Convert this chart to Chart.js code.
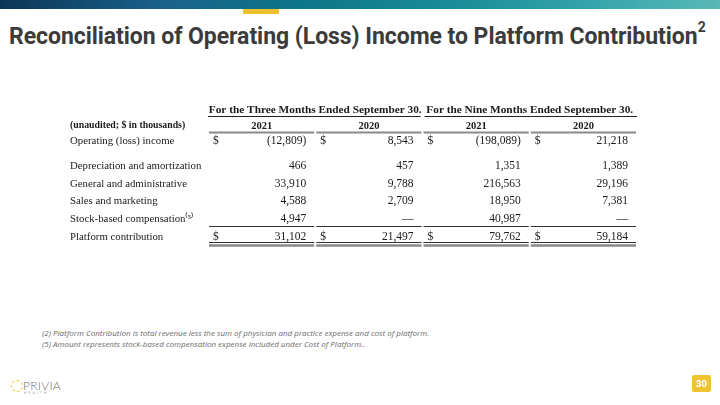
<!DOCTYPE html>
<html>
<head>
<meta charset="utf-8">
<title>Reconciliation of Operating (Loss) Income to Platform Contribution</title>
<script src="https://cdn.jsdelivr.net/npm/chart.js@4.4.0/dist/chart.umd.min.js"></script>
<style>
  html, body { margin: 0; padding: 0; }
  body { width: 720px; height: 405px; position: relative; overflow: hidden; background: #fff; font-family: Roboto, "Open Sans", sans-serif; }
  #band { position: absolute; left: 0; top: 0; width: 720px; height: 9px;
    background: linear-gradient(90deg, #0c3657 0%, #1a618a 22%, #0d7589 42%, #1a8f9a 65%, #3aa8ad 85%, #5ab8b6 100%); }
  #tab { position: absolute; left: 243px; top: 9px; width: 36px; height: 5px; background: #f0c12f; }
  #title { position: absolute; left: 9px; top: 22px; font-size: 23px; font-weight: 700; color: #3b3b3b; white-space: nowrap; letter-spacing: -0.05px; }
  #title sup { font-size: 14px; position: relative; top: -3px; }
  #wrap { position: absolute; left: 70px; top: 95px; width: 580px; height: 160px; }
  .note { position: absolute; left: 42px; font-family: "Open Sans", sans-serif; font-style: italic; font-size: 8px; color: #6a6a6a; white-space: nowrap; }
  #logo { position: absolute; left: 10px; top: 378px; width: 60px; height: 20px; }
  #logo .ring { position: absolute; left: 1px; top: 2px; width: 10px; height: 10px; border: 1.5px dashed #f0c12f; border-radius: 50%; }
  #logo .name { position: absolute; left: 13px; top: 0px; font-family: Lato, sans-serif; font-weight: 300; font-size: 12px; color: #707070; letter-spacing: 0.3px; }
  #logo .sub { position: absolute; left: 14px; top: 13px; font-family: Lato, sans-serif; font-size: 3px; color: #999; letter-spacing: 2.2px; }
  #page { position: absolute; left: 692px; top: 375px; width: 19px; height: 17px; background: #f0c330; border-radius: 2px; color: #fff; font-size: 9.5px; font-weight: 700; text-align: center; line-height: 17px; }
</style>
</head>
<body>
<div id="band"></div>
<div id="tab"></div>
<div id="title">Reconciliation of Operating (Loss) Income to Platform Contribution<sup>2</sup></div>
<div id="wrap"><canvas id="tableChart"></canvas></div>
<div class="note" style="top:327px">(2) Platform Contribution is total revenue less the sum of physician and practice expense and cost of platform.</div>
<div class="note" style="top:338px">(5) Amount represents stock-based compensation expense included under Cost of Platform..</div>
<div id="logo"><div class="ring"></div><div class="name">PRIVIA</div><div class="sub">HEALTH</div></div>
<div id="page">30</div>
<script>
// rows and columns of the reconciliation
var rowLabels = ['Operating (loss) income', 'Depreciation and amortization', 'General and administrative',
                 'Sales and marketing', 'Stock-based compensation\u207D\u2075\u207E', 'Platform contribution'];
var dollarRows = [0, 5];
var periods = ['For the Three Months Ended September 30.', 'For the Nine Months Ended September 30.'];
var columnKeys = ['3M 2021', '3M 2020', '9M 2021', '9M 2020'];
var years = ['2021', '2020', '2021', '2020'];
var threeMonths2021 = [-12809, 466, 33910, 4588, 4947, 31102];
var threeMonths2020 = [8543, 457, 9788, 2709, null, 21497];
var nineMonths2021 = [-198089, 1351, 216563, 18950, 40987, 79762];
var nineMonths2020 = [21218, 1389, 29196, 7381, null, 59184];
var unitsLabel = '(unaudited; $ in thousands)';

// vertical slot of each row (gap after the first one)
var rowSlot = [0, 1.4, 2.4, 3.4, 4.4, 5.4];
var yearSlot = -0.85, periodSlot = -1.75;

var columns = [threeMonths2021, threeMonths2020, nineMonths2021, nineMonths2020];

function fmt(v) {
    if (v === null) return '\u2014';
    var s = Math.abs(v).toLocaleString('en-US');
    return v < 0 ? '(' + s + ')' : s;
}

var serif = '"Liberation Serif", "Times New Roman", serif';

var tablePlugin = {
    id: 'tableText',
    afterDatasetsDraw: function(chart) {
        var ctx = chart.ctx, xs = chart.scales.x, ys = chart.scales.y;
        var colW = xs.getPixelForValue(1) - xs.getPixelForValue(0);
        ctx.save();
        ctx.textBaseline = 'middle';
        ctx.fillStyle = '#1a1a1a';
        // cell values
        chart.data.datasets.forEach(function(ds, c) {
            var meta = chart.getDatasetMeta(c);
            meta.data.forEach(function(pt, r) {
                var left = pt.x - colW / 2, right = pt.x + colW / 2;
                ctx.font = '11.5px ' + serif;
                ctx.textAlign = 'right';
                ctx.fillText(fmt(ds.values[r]), right - 9, pt.y);
                if (dollarRows.indexOf(r) >= 0) {
                    ctx.textAlign = 'left';
                    ctx.fillText('$', left + 5, pt.y);
                }
            });
        });
        // year headers
        var yYear = ys.getPixelForValue(yearSlot);
        ctx.font = 'bold 10.5px ' + serif;
        ctx.textAlign = 'center';
        years.forEach(function(y, c) { ctx.fillText(y, xs.getPixelForValue(c), yYear); });
        // period headers
        var yPer = ys.getPixelForValue(periodSlot);
        ctx.font = 'bold 11.3px ' + serif;
        periods.forEach(function(p, i) {
            var a = xs.getPixelForValue(i * 2) - colW / 2, b = xs.getPixelForValue(i * 2 + 1) + colW / 2;
            ctx.fillText(p, (a + b) / 2, yPer);
            ctx.strokeStyle = '#222'; ctx.lineWidth = 1;
            ctx.beginPath(); ctx.moveTo(a + (i ? 2 : 0), Math.round(yPer) + 6.5); ctx.lineTo(b - (i ? 0 : 2), Math.round(yPer) + 6.5); ctx.stroke();
        });
        // rules under each column
        function rule(yPix, width, color) {
            ctx.strokeStyle = color; ctx.lineWidth = width;
            for (var c = 0; c < years.length; c++) {
                var cx = xs.getPixelForValue(c);
                ctx.beginPath(); ctx.moveTo(cx - colW / 2 + 1, yPix); ctx.lineTo(cx + colW / 2 - 1, yPix); ctx.stroke();
            }
        }
        rule(Math.round(yYear) + 6.5, 2, '#8a8a8a');
        rule(Math.round(ys.getPixelForValue(rowSlot[4])) + 7.5, 1, '#333');
        var yLast = Math.round(ys.getPixelForValue(rowSlot[5]));
        rule(yLast + 5.5, 1, '#333');
        rule(yLast + 8.5, 2.5, '#8a8a8a');
        ctx.restore();
    }
};

var ctx = document.getElementById('tableChart').getContext('2d');
var chart = new Chart(ctx, {
    type: 'scatter',
    data: {
        datasets: columns.map(function(col, c) {
            return {
                label: columnKeys[c],
                values: col,
                data: col.map(function(v, r) { return { x: columnKeys[c], y: rowSlot[r] }; }),
                pointRadius: 0
            };
        })
    },
    options: {
        responsive: true,
        maintainAspectRatio: false,
        animation: false,
        layout: { padding: { left: 0, right: 13, top: 0, bottom: 0 } },
        plugins: { legend: { display: false }, tooltip: { enabled: false } },
        scales: {
            x: {
                type: 'category', labels: columnKeys, display: false, offset: true
            },
            y: {
                type: 'linear', reverse: true, min: -2.587, max: 6.41,
                grid: { display: false }, border: { display: false },
                afterFit: function(s) { s.width = 138; s.paddingTop = 0; s.paddingBottom = 0; },
                afterBuildTicks: function(s) {
                    s.ticks = [{ value: yearSlot }].concat(rowSlot.map(function(v) { return { value: v }; }));
                },
                ticks: {
                    crossAlign: 'far',
                    color: '#1a1a1a',
                    font: function(c) {
                        return c.index === 0 ? { family: serif, size: 9.8, weight: 'bold' } : { family: serif, size: 10.8 };
                    },
                    callback: function(v, i) { return i === 0 ? unitsLabel : rowLabels[i - 1]; }
                }
            }
        }
    },
    plugins: [tablePlugin]
});
</script>
</body>
</html>
